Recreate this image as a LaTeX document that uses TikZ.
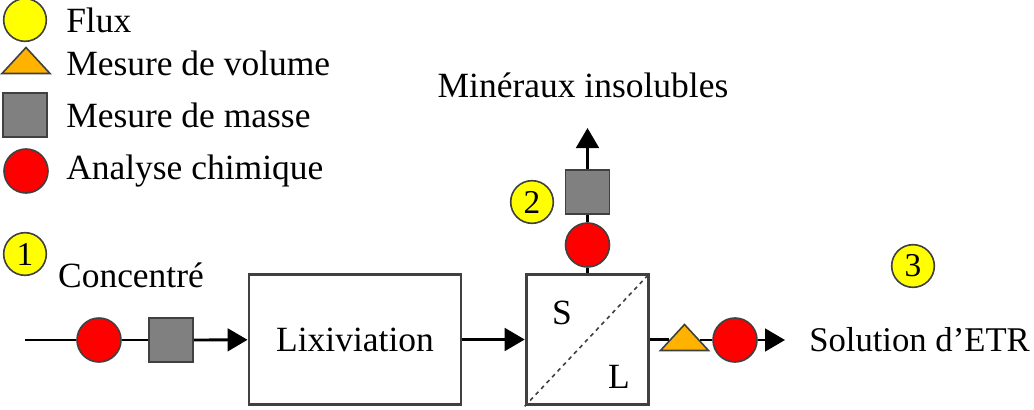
\documentclass[tikz,border=0pt]{standalone}
\usepackage{fontspec}
\setmainfont{Liberation Serif}
\usetikzlibrary{arrows.meta,shapes.geometric}
\definecolor{fluxyellow}{HTML}{FFFF00}
\definecolor{volorange}{HTML}{FFB300}
\definecolor{massgray}{HTML}{808080}
\definecolor{chemred}{HTML}{FF0000}
\definecolor{edgegray}{HTML}{404040}
\tikzset{
  flow/.style={-{Triangle[length=15pt, width=17pt]}, line width=2.1pt, draw=black},
  link/.style={line width=2.1pt, draw=black},
  unit/.style={draw=edgegray, line width=2.2pt, rectangle, fill=white, inner sep=0pt},
  fluxmark/.style={draw=edgegray, line width=1.2pt, circle, fill=fluxyellow, minimum size=32pt, inner sep=0pt, font=\fontsize{25}{27}\selectfont},
  chemmark/.style={draw=edgegray, line width=1.2pt, circle, fill=chemred, minimum size=33pt, inner sep=0pt},
  massmark/.style={draw=edgegray, line width=1.2pt, rectangle, fill=massgray, minimum size=33pt, inner sep=0pt},
  volmark/.style={draw=edgegray, line width=1.2pt, isosceles triangle, isosceles triangle stretches, shape border rotate=90, fill=volorange, minimum width=36pt, minimum height=19.5pt, inner sep=0pt},
  legtext/.style={anchor=west, inner sep=0pt}
}

\begin{document}
\begin{tikzpicture}[x=0.75pt, y=-0.75pt, font=\fontsize{26.6}{30}\selectfont]
  \useasboundingbox (0,0) rectangle (1034,410);

  % legende
  \node[fluxmark] (legflux) at (25,20) {};
  \node[legtext] (legfluxtxt) at (66,20) {Flux};
  \node[volmark] (legvol) at (26,63) {};
  \node[legtext] (legvoltxt) at (66,63) {Mesure de volume};
  \node[massmark] (legmass) at (25,115) {};
  \node[legtext] (legmasstxt) at (66,115) {Mesure de masse};
  \node[chemmark] (legchem) at (26,171) {};
  \node[legtext] (legchemtxt) at (66,171) {Analyse chimique};

  % procede
  \coordinate (feed) at (25,340);
  \node[chemmark] (chem1) at (99,340) {};
  \node[massmark] (mass1) at (171,340) {};
  \node[unit, minimum width=159pt, minimum height=98pt] (lix) at (355,339.5) {Lixiviation};
  \node[unit, minimum width=92pt, minimum height=98pt] (sep) at (587.5,339.5) {};
  \draw[edgegray, line width=1.2pt, dashed] (sep.south west) -- (sep.north east);
  \node (solid) at (562,313) {S};
  \node (liquid) at (619,377) {L};

  \node[chemmark] (chem2) at (587.5,245) {};
  \node[massmark] (mass2) at (587.5,192) {};
  \coordinate (residue) at (587.5,128);
  \node (residuetxt) at (583,85) {Minéraux insolubles};

  \node[volmark] (vol3) at (684.5,340) {};
  \node[chemmark] (chem3) at (735,340) {};
  \coordinate (product) at (785,340);
  \node[anchor=west, inner sep=0pt, font=\fontsize{26}{30}\selectfont] (producttxt) at (809,340) {Solution d’ETR};

  \node[fluxmark] (flux1) at (25,254) {1};
  \node (feedtxt) at (131,275) {Concentré};
  \node[fluxmark] (flux2) at (532,202) {2};
  \node[fluxmark] (flux3) at (913,266) {3};

  \draw[link] (feed) -- (chem1);
  \draw[link] (chem1) -- (mass1);
  \draw[flow] (mass1) -- (lix);
  \draw[flow] (lix) -- (sep);
  \draw[link] (sep) -- (chem2);
  \draw[link] (chem2) -- (mass2);
  \draw[flow] (mass2) -- (residue);
  \draw[link] (sep.east) -- (vol3.west |- sep.east);
  \draw[link] (vol3) -- (chem3);
  \draw[flow] (chem3) -- (product);
\end{tikzpicture}
\end{document}
